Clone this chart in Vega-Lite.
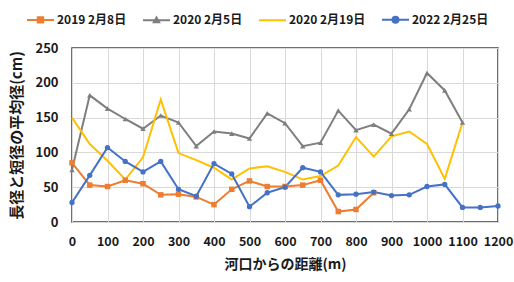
{
  "$schema": "https://vega.github.io/schema/vega-lite/v6.json",
  "autosize": "none",
  "width": 426,
  "height": 174,
  "padding": {"left": 72, "top": 48, "right": 16, "bottom": 60},
  "background": "white",
  "config": {
    "font": "Noto Sans CJK JP",
    "view": {"stroke": "#404040", "strokeWidth": 1.5},
    "axis": {
      "labelFont": "Noto Sans CJK JP",
      "labelFontSize": 13,
      "labelFontWeight": "bold",
      "labelColor": "#1a1a1a",
      "titleFont": "Noto Sans CJK JP",
      "titleFontWeight": "bold",
      "titleColor": "#1a1a1a",
      "ticks": false,
      "domain": false,
      "gridColor": "#d9d9d9",
      "gridWidth": 1
    }
  },
  "data": {
    "values": [
      {"series": "2019 2月8日", "d": 0, "v": 85},
      {"series": "2019 2月8日", "d": 50, "v": 53},
      {"series": "2019 2月8日", "d": 100, "v": 51},
      {"series": "2019 2月8日", "d": 150, "v": 60},
      {"series": "2019 2月8日", "d": 200, "v": 55},
      {"series": "2019 2月8日", "d": 250, "v": 39},
      {"series": "2019 2月8日", "d": 300, "v": 40},
      {"series": "2019 2月8日", "d": 350, "v": 36},
      {"series": "2019 2月8日", "d": 400, "v": 25},
      {"series": "2019 2月8日", "d": 450, "v": 47},
      {"series": "2019 2月8日", "d": 500, "v": 59},
      {"series": "2019 2月8日", "d": 550, "v": 51},
      {"series": "2019 2月8日", "d": 600, "v": 51},
      {"series": "2019 2月8日", "d": 650, "v": 53},
      {"series": "2019 2月8日", "d": 700, "v": 60},
      {"series": "2019 2月8日", "d": 750, "v": 15},
      {"series": "2019 2月8日", "d": 800, "v": 18},
      {"series": "2019 2月8日", "d": 850, "v": 42},
      {"series": "2020 2月5日", "d": 0, "v": 75},
      {"series": "2020 2月5日", "d": 50, "v": 182},
      {"series": "2020 2月5日", "d": 100, "v": 163},
      {"series": "2020 2月5日", "d": 150, "v": 148},
      {"series": "2020 2月5日", "d": 200, "v": 134},
      {"series": "2020 2月5日", "d": 250, "v": 153},
      {"series": "2020 2月5日", "d": 300, "v": 143},
      {"series": "2020 2月5日", "d": 350, "v": 109},
      {"series": "2020 2月5日", "d": 400, "v": 130},
      {"series": "2020 2月5日", "d": 450, "v": 127},
      {"series": "2020 2月5日", "d": 500, "v": 120},
      {"series": "2020 2月5日", "d": 550, "v": 156},
      {"series": "2020 2月5日", "d": 600, "v": 142},
      {"series": "2020 2月5日", "d": 650, "v": 109},
      {"series": "2020 2月5日", "d": 700, "v": 114},
      {"series": "2020 2月5日", "d": 750, "v": 160},
      {"series": "2020 2月5日", "d": 800, "v": 132},
      {"series": "2020 2月5日", "d": 850, "v": 140},
      {"series": "2020 2月5日", "d": 900, "v": 127},
      {"series": "2020 2月5日", "d": 950, "v": 162},
      {"series": "2020 2月5日", "d": 1000, "v": 214},
      {"series": "2020 2月5日", "d": 1050, "v": 189},
      {"series": "2020 2月5日", "d": 1100, "v": 143},
      {"series": "2020 2月19日", "d": 0, "v": 150},
      {"series": "2020 2月19日", "d": 50, "v": 112},
      {"series": "2020 2月19日", "d": 100, "v": 88},
      {"series": "2020 2月19日", "d": 150, "v": 61},
      {"series": "2020 2月19日", "d": 200, "v": 93},
      {"series": "2020 2月19日", "d": 250, "v": 176},
      {"series": "2020 2月19日", "d": 300, "v": 99},
      {"series": "2020 2月19日", "d": 350, "v": 89},
      {"series": "2020 2月19日", "d": 400, "v": 78},
      {"series": "2020 2月19日", "d": 450, "v": 61},
      {"series": "2020 2月19日", "d": 500, "v": 77},
      {"series": "2020 2月19日", "d": 550, "v": 80},
      {"series": "2020 2月19日", "d": 600, "v": 72},
      {"series": "2020 2月19日", "d": 650, "v": 61},
      {"series": "2020 2月19日", "d": 700, "v": 66},
      {"series": "2020 2月19日", "d": 750, "v": 81},
      {"series": "2020 2月19日", "d": 800, "v": 122},
      {"series": "2020 2月19日", "d": 850, "v": 94},
      {"series": "2020 2月19日", "d": 900, "v": 123},
      {"series": "2020 2月19日", "d": 950, "v": 130},
      {"series": "2020 2月19日", "d": 1000, "v": 112},
      {"series": "2020 2月19日", "d": 1050, "v": 62},
      {"series": "2020 2月19日", "d": 1100, "v": 143},
      {"series": "2022 2月25日", "d": 0, "v": 28},
      {"series": "2022 2月25日", "d": 50, "v": 67},
      {"series": "2022 2月25日", "d": 100, "v": 107},
      {"series": "2022 2月25日", "d": 150, "v": 87},
      {"series": "2022 2月25日", "d": 200, "v": 72},
      {"series": "2022 2月25日", "d": 250, "v": 87},
      {"series": "2022 2月25日", "d": 300, "v": 47},
      {"series": "2022 2月25日", "d": 350, "v": 37},
      {"series": "2022 2月25日", "d": 400, "v": 84},
      {"series": "2022 2月25日", "d": 450, "v": 69},
      {"series": "2022 2月25日", "d": 500, "v": 22},
      {"series": "2022 2月25日", "d": 550, "v": 42},
      {"series": "2022 2月25日", "d": 600, "v": 50},
      {"series": "2022 2月25日", "d": 650, "v": 78},
      {"series": "2022 2月25日", "d": 700, "v": 72},
      {"series": "2022 2月25日", "d": 750, "v": 39},
      {"series": "2022 2月25日", "d": 800, "v": 40},
      {"series": "2022 2月25日", "d": 850, "v": 43},
      {"series": "2022 2月25日", "d": 900, "v": 38},
      {"series": "2022 2月25日", "d": 950, "v": 39},
      {"series": "2022 2月25日", "d": 1000, "v": 51},
      {"series": "2022 2月25日", "d": 1050, "v": 54},
      {"series": "2022 2月25日", "d": 1100, "v": 21},
      {"series": "2022 2月25日", "d": 1150, "v": 21},
      {"series": "2022 2月25日", "d": 1200, "v": 23}
    ]
  },
  "encoding": {
    "x": {
      "field": "d",
      "type": "quantitative",
      "scale": {"domain": [0, 1200], "nice": false},
      "axis": {
        "values": [0, 100, 200, 300, 400, 500, 600, 700, 800, 900, 1000, 1100, 1200],
        "format": "d",
        "labelOverlap": false,
        "labelBound": false,
        "labelFlush": false,
        "labelFontSize": 12.5,
        "labelPadding": 13,
        "title": "河口からの距離(m)",
        "titleFontSize": 14,
        "titlePadding": 10
      }
    },
    "y": {
      "field": "v",
      "type": "quantitative",
      "scale": {"domain": [0, 250], "nice": false},
      "axis": {
        "values": [0, 50, 100, 150, 200, 250],
        "labelPadding": 14,
        "title": "長径と短径の平均径(cm)",
        "titleFontSize": 15,
        "titlePadding": 10
      }
    },
    "color": {
      "field": "series",
      "type": "nominal",
      "scale": {
        "domain": ["2019 2月8日", "2020 2月5日", "2020 2月19日", "2022 2月25日"],
        "range": ["#ED7D31", "#7F7F7F", "#FFC000", "#4472C4"]
      },
      "legend": {
        "orient": "none",
        "legendX": -46,
        "legendY": -43,
        "direction": "horizontal",
        "title": null,
        "symbolSize": 729,
        "symbolStrokeWidth": 2,
        "labelFont": "Noto Sans CJK JP",
        "labelFontSize": 12,
        "labelFontWeight": "bold",
        "labelColor": "#1a1a1a",
        "labelOffset": 2,
        "columnPadding": 12,
        "encode": {
          "symbols": {
            "update": {
              "shape": {"signal": "datum.value == '2019 2月8日' ? 'M-1,0H1M-0.2,-0.2H0.2V0.2H-0.2Z' : datum.value == '2020 2月5日' ? 'M-1,0H1M-0.2,0.16L0,-0.2L0.2,0.16Z' : datum.value == '2020 2月19日' ? 'M-1,0H1' : 'M-1,0H1M-0.22,0A0.22,0.22 0 1,0 0.22,0A0.22,0.22 0 1,0 -0.22,0Z'"},
              "fill": {"scale": "color", "field": "value"},
              "stroke": {"scale": "color", "field": "value"},
              "strokeWidth": {"value": 2},
              "opacity": {"value": 1}
            }
          }
        }
      }
    }
  },
  "layer": [
    {
      "mark": {"type": "line", "strokeWidth": 2}
    },
    {
      "transform": [{"filter": "datum.series != '2020 2月19日'"}],
      "mark": {"type": "point", "filled": true, "opacity": 1},
      "encoding": {
        "shape": {
          "field": "series",
          "type": "nominal",
          "scale": {
            "domain": ["2019 2月8日", "2020 2月5日", "2022 2月25日"],
            "range": ["square", "triangle-up", "circle"]
          },
          "legend": null
        },
        "size": {
          "field": "series",
          "type": "nominal",
          "scale": {
            "domain": ["2019 2月8日", "2020 2月5日", "2022 2月25日"],
            "range": [30, 28, 45]
          },
          "legend": null
        }
      }
    }
  ]
}
